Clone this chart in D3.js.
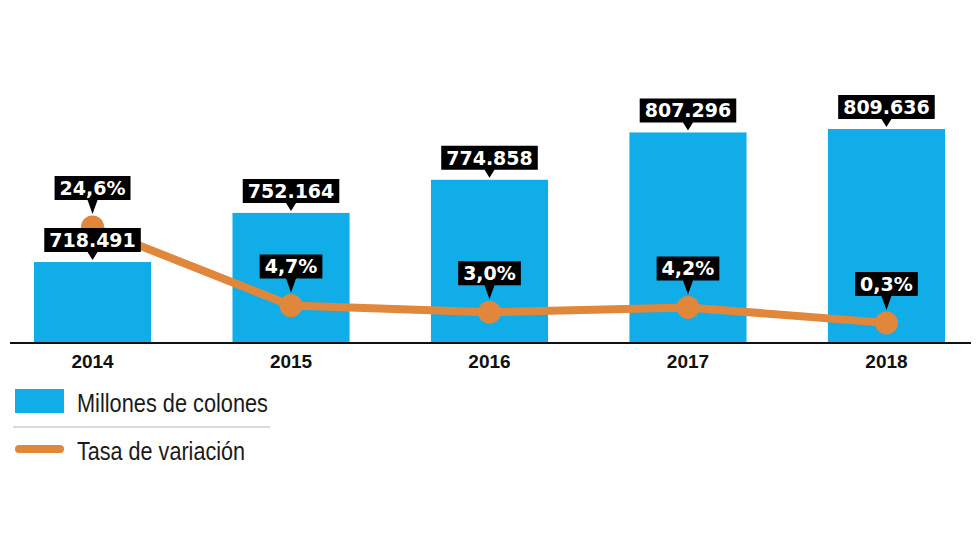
<!DOCTYPE html>
<html><head><meta charset="utf-8">
<script src="https://cdn.jsdelivr.net/npm/d3@7"></script>
<style>html,body{margin:0;padding:0;background:#fff;}svg{display:block;}</style>
</head><body>
<svg id="chart" width="980" height="555"></svg>
<script>
const years = ["2014","2015","2016","2017","2018"];
const amounts = [718491, 752164, 774858, 807296, 809636];
const amountLabels = ["718.491","752.164","774.858","807.296","809.636"];
const rates = [24.6, 4.7, 3.0, 4.2, 0.3];
const rateLabels = ["24,6%","4,7%","3,0%","4,2%","0,3%"];
const legendLabels = ["Millones de colones","Tasa de variación"];

const BLUE = "#10ADE8", ORANGE = "#E0873C";
const svg = d3.select("#chart");
const baseY = 343;

const x = d3.scaleBand().domain(years).range([34, 945]).paddingInner(0.41).paddingOuter(0);
const yBar = d3.scaleLinear().domain([663000, 810000]).range([baseY, 128.5]);
const yLine = d3.scaleLinear().domain([-4.8, 24.6]).range([baseY, 227]);
const cx = d => x(d) + x.bandwidth() / 2;

// bars
svg.append("g").selectAll("rect").data(years).join("rect")
  .attr("x", d => x(d)).attr("width", x.bandwidth())
  .attr("y", (d, i) => yBar(amounts[i]))
  .attr("height", (d, i) => baseY - yBar(amounts[i]))
  .attr("fill", BLUE);

// axis
const axis = d3.axisBottom(x).tickSize(0).tickPadding(10);
const ag = svg.append("g").attr("transform", `translate(0,${baseY})`).call(axis);
ag.select(".domain").remove();
ag.selectAll("text").attr("font-family", "'Liberation Sans', Arial, sans-serif")
  .attr("font-weight", "bold").attr("font-size", 19).attr("fill", "#111")
  .attr("dy", "0.72em").attr("y", 11);
svg.append("line").attr("x1", 10).attr("x2", 971).attr("y1", baseY).attr("y2", baseY)
  .attr("stroke", "#111").attr("stroke-width", 2.2);

// line
const line = d3.line().x(d => cx(d.year)).y(d => yLine(d.v));
const pts = years.map((y, i) => ({year: y, v: rates[i]}));
svg.append("path").datum(pts).attr("d", line).attr("fill", "none")
  .attr("stroke", ORANGE).attr("stroke-width", 8).attr("stroke-linejoin", "round");
svg.append("g").selectAll("circle").data(pts).join("circle")
  .attr("cx", d => cx(d.year)).attr("cy", d => yLine(d.v)).attr("r", 11.5).attr("fill", ORANGE);

// callout labels
function callout(g, text, cxp, tipY, boxBottom, h) {
  const t = g.append("text").text(text)
    .attr("font-family", "'DejaVu Sans', sans-serif").attr("font-weight", "bold")
    .attr("font-size", 19).attr("fill", "#fff").attr("text-anchor", "middle")
    .attr("x", cxp).attr("y", boxBottom - h / 2).attr("dy", "0.36em");
  const w = t.node().getComputedTextLength() + 10;
  g.insert("path", "text")
    .attr("d", `M${cxp - w / 2},${boxBottom - h} h${w} v${h} H${cxp + 5} L${cxp},${tipY} L${cxp - 5},${boxBottom} H${cxp - w / 2} Z`)
    .attr("fill", "#000");
}
const lg = svg.append("g");
years.forEach((y, i) => {
  const top = yBar(amounts[i]);
  callout(lg.append("g"), amountLabels[i], cx(y), top - 2, top - 10, 24);
  const c = yLine(rates[i]);
  callout(lg.append("g"), rateLabels[i], cx(y), c - 13, c - 27, 24);
});

// legend
const leg = svg.append("g");
leg.append("rect").attr("x", 15).attr("y", 389).attr("width", 49).attr("height", 24).attr("fill", BLUE);
leg.append("line").attr("x1", 13).attr("x2", 270).attr("y1", 427).attr("y2", 427)
  .attr("stroke", "#cfcfcf").attr("stroke-width", 1.5);
leg.append("line").attr("x1", 19).attr("x2", 60).attr("y1", 449).attr("y2", 449)
  .attr("stroke", ORANGE).attr("stroke-width", 8).attr("stroke-linecap", "round");
const lt = [[legendLabels[0], 412, 191], [legendLabels[1], 460, 168]];
lt.forEach(([s, by, w]) => {
  leg.append("text").text(s).attr("x", 77).attr("y", by)
    .attr("font-family", "'Liberation Sans Narrow', 'Liberation Sans', Arial, sans-serif")
    .attr("font-size", 26).attr("fill", "#1a1a1a")
    .attr("textLength", w).attr("lengthAdjust", "spacingAndGlyphs");
});
</script>
</body></html>
